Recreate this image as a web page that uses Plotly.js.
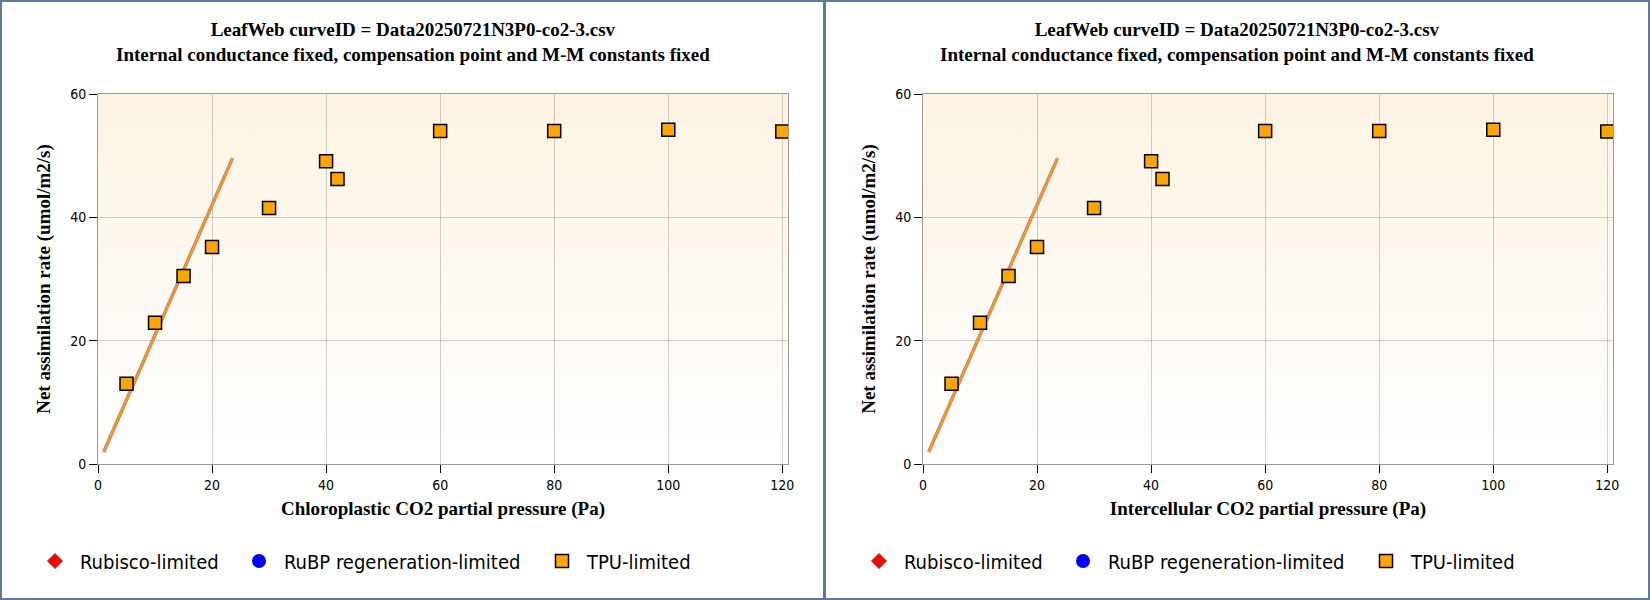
<!DOCTYPE html>
<html>
<head>
<meta charset="utf-8">
<script src="https://cdn.plot.ly/plotly-3.0.1.min.js"></script>
<style>
  html, body { margin: 0; padding: 0; background: #ffffff; }
  #wrap { width: 1650px; height: 600px; display: flex; }
  .panel { box-sizing: border-box; height: 600px; border: 2px solid #60799a; background: #fff; }
  #p1 { width: 825px; }
  #p2 { width: 825px; border-left-width: 1px; }
</style>
</head>
<body>
<div id="wrap"><div id="p1" class="panel"></div><div id="p2" class="panel"></div></div>
<script>
// ---- data ----
const ciValues = [5, 10, 15, 20, 30, 40, 42, 60, 80, 100, 120];
const anetValues = [13.0, 22.9, 30.5, 35.2, 41.5, 49.1, 46.2, 54.0, 54.0, 54.2, 53.9];
const modelX = [1.0, 23.6];
const modelY = [1.95, 49.6];
const xTicks = [0, 20, 40, 60, 80, 100, 120];
const yTicks = [0, 20, 40, 60];
const legendNames = ['Rubisco-limited', 'RuBP regeneration-limited', 'TPU-limited'];
const titleLines = ['LeafWeb curveID = Data20250721N3P0-co2-3.csv',
                    'Internal conductance fixed, compensation point and M-M constants fixed'];
const yTitle = 'Net assimilation rate (umol/m2/s)';
const xTitles = ['Chloroplastic CO2 partial pressure (Pa)', 'Intercellular CO2 partial pressure (Pa)'];

const serif = '"Liberation Serif", "Times New Roman", serif';
const sans = '"DejaVu Sans Condensed", "DejaVu Sans", Tahoma, sans-serif';

const gradSvg = '<svg xmlns="http://www.w3.org/2000/svg" width="10" height="100" preserveAspectRatio="none">' +
  '<defs><linearGradient id="g" x1="0" y1="0" x2="0" y2="1">' +
  '<stop offset="0" stop-color="#fcf3e3"/><stop offset="1" stop-color="#ffffff"/></linearGradient></defs>' +
  '<rect width="10" height="100" fill="url(#g)"/></svg>';
const gradUri = 'data:image/svg+xml;charset=utf-8,' + encodeURIComponent(gradSvg);

function legendAt(xpx, width) {
  return { orientation: 'h', xref: 'container', yref: 'container', x: xpx / width, y: 0.062,
           xanchor: 'left', yanchor: 'middle', itemwidth: 40,
           font: { family: sans, size: 20, color: '#000' }, bgcolor: 'rgba(0,0,0,0)' };
}

function makePanel(id, xTitle, width, left) {
  const plotW = width - left - 35, plotH = 596 - 92 - 134;
  const traces = [
    { x: [null], y: [null], type: 'scatter', mode: 'markers', name: legendNames[0], legend: 'legend',
      marker: { symbol: 'diamond', size: 12, color: '#ff0000', line: { color: '#888888', width: 1 } } },
    { x: [null], y: [null], type: 'scatter', mode: 'markers', name: legendNames[1], legend: 'legend2',
      marker: { symbol: 'circle', size: 14, color: '#0000ff', line: { color: '#0000ff', width: 0 } } },
    { x: modelX, y: modelY, type: 'scatter', mode: 'lines', showlegend: false, hoverinfo: 'skip',
      line: { color: '#a878a8', width: 3.4 } },
    { x: modelX, y: modelY, type: 'scatter', mode: 'lines', showlegend: false,
      line: { color: '#ff9c00', width: 2 } },
    { x: ciValues, y: anetValues, type: 'scatter', mode: 'markers', name: legendNames[2], legend: 'legend3',
      marker: { symbol: 'square', size: 13, color: '#ffa500', line: { color: '#000000', width: 1.5 } } }
  ];
  const layout = {
    width: width, height: 596, autosize: false,
    margin: { l: left, r: 35, t: 92, b: 134 },
    paper_bgcolor: '#ffffff', plot_bgcolor: 'rgba(0,0,0,0)',
    showlegend: true,
    legend: legendAt(28, width),
    legend2: legendAt(232, width),
    legend3: legendAt(535, width),
    xaxis: {
      range: [0, 121], tickvals: xTicks, ticktext: xTicks.map(String),
      showgrid: true, gridcolor: 'rgba(0,0,0,0.18)', zeroline: false,
      showline: true, linecolor: '#999999', linewidth: 1, mirror: true,
      ticks: 'outside', ticklen: 8, tickcolor: '#000', tickwidth: 1,
      tickfont: { family: sans, size: 14, color: '#000' },
      title: { text: '<b>' + xTitle + '</b>', font: { family: serif, size: 19, color: '#000' }, standoff: 9 }
    },
    yaxis: {
      range: [0, 60], tickvals: yTicks, ticktext: yTicks.map(String),
      showgrid: true, gridcolor: 'rgba(0,0,0,0.18)', zeroline: false,
      showline: true, linecolor: '#999999', linewidth: 1, mirror: true,
      ticks: 'outside', ticklen: 8, tickcolor: '#000', tickwidth: 1,
      tickfont: { family: sans, size: 14, color: '#000' },
      title: { text: '<b>' + yTitle + '</b>', font: { family: serif, size: 19, color: '#000' }, standoff: 14 }
    },
    images: [{ source: gradUri, xref: 'x domain', yref: 'y domain', x: 0, y: 1, sizex: 1, sizey: 1,
               xanchor: 'left', yanchor: 'top', sizing: 'stretch', layer: 'below' }],
    annotations: [{
      text: '<b>' + titleLines[0] + '</b><br><b>' + titleLines[1] + '</b>',
      xref: 'paper', yref: 'paper',
      x: (width / 2 - left) / plotW, y: (plotH + 92 - 40) / plotH,
      xanchor: 'center', yanchor: 'middle',
      showarrow: false, font: { family: serif, size: 19, color: '#000' }
    }]
  };
  Plotly.newPlot(id, traces, layout, { displayModeBar: false, staticPlot: true });
}
makePanel('p1', xTitles[0], 821, 96);
makePanel('p2', xTitles[1], 822, 97);
</script>
</body>
</html>
